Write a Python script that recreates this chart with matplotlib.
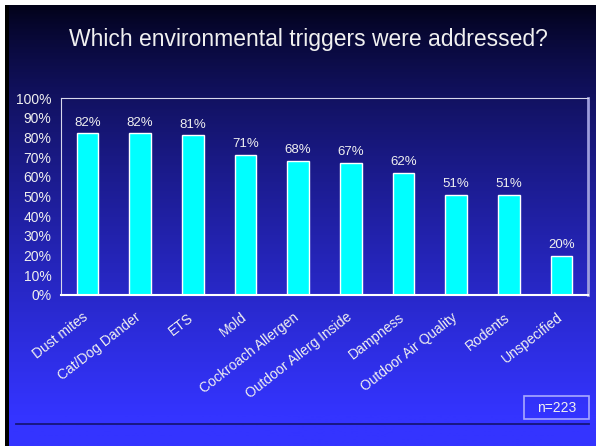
import numpy as np
import matplotlib
matplotlib.use('Agg')
import matplotlib.pyplot as plt
import matplotlib.transforms as mtransforms
from matplotlib.patches import Rectangle
from matplotlib.lines import Line2D

plt.rcParams['font.family'] = ['Liberation Sans', 'DejaVu Sans']

# Share of cases where each trigger was addressed (%)
triggers = ['Dust mites', 'Cat/Dog Dander', 'ETS', 'Mold', 'Cockroach Allergen',
            'Outdoor Allerg Inside', 'Dampness', 'Outdoor Air Quality', 'Rodents',
            'Unspecified']
percent = [82, 82, 81, 71, 68, 67, 62, 51, 51, 20]
yticks = [0, 10, 20, 30, 40, 50, 60, 70, 80, 90, 100]
sample_note = 'n=223'

text_col = '#f0f0f0'

fig = plt.figure(figsize=(5.96, 4.46), dpi=100)

# slide background: dark navy at the top fading into bright blue
bg = fig.add_axes([0, 0, 1, 1], zorder=-10)
t = np.linspace(0, 1, 400)
t = np.clip(t / 0.93, 0, 1) ** 0.75
top = np.array([0x00, 0x00, 0x10]) / 255
bottom = np.array([0x34, 0x34, 0xff]) / 255
grad = top[None, :] + (bottom - top)[None, :] * t[:, None]
bg.imshow(grad[:, None, :], aspect='auto', extent=[0, 1, 0, 1], origin='upper')
bg.set_xlim(0, 1)
bg.set_ylim(0, 1)
bg.axis('off')

# white margin at top/left plus a thin black edge
fig.patches.append(Rectangle((0, 1 - 5 / 446), 1, 5 / 446, transform=fig.transFigure,
                             facecolor='white', edgecolor='none', zorder=5))
fig.patches.append(Rectangle((0, 0), 5 / 596, 1, transform=fig.transFigure,
                             facecolor='white', edgecolor='none', zorder=5))
fig.patches.append(Rectangle((5 / 596, 0), 4 / 596, 1 - 5 / 446, transform=fig.transFigure,
                             facecolor='black', edgecolor='none', zorder=5))

fig.text(0.517, 1 - 46 / 446, 'Which environmental triggers were addressed?',
         ha='center', va='baseline', fontsize=16.5, color=text_col)

ax = fig.add_axes([61 / 596, 1 - 295 / 446, 527 / 596, 197 / 446])
ax.patch.set_alpha(0)
x = np.arange(len(triggers))
bars = ax.bar(x, percent, width=0.41, color='#00ffff', edgecolor='white', linewidth=1)
for xi, v in zip(x, percent):
    ax.text(xi, v + 2.5, f'{v}%', ha='center', va='bottom', fontsize=9.5, color=text_col)

ax.set_xlim(-0.5, len(triggers) - 0.5)
ax.set_ylim(0, 100)
ax.set_yticks(yticks)
ax.set_yticklabels([f'{v}%' for v in yticks], fontsize=10, color=text_col)
ax.set_xticks(x)
ax.set_xticklabels(triggers, rotation=38, ha='right', va='top', rotation_mode='anchor',
                   fontsize=10, color=text_col)
ax.tick_params(axis='y', length=0, pad=7)
ax.tick_params(axis='x', length=0, pad=11)
# nudge rotated labels so their ends sit just left of the bar centres
shift = mtransforms.ScaledTranslation(-5 / 100, 0, fig.dpi_scale_trans)
for lbl in ax.get_xticklabels():
    lbl.set_transform(lbl.get_transform() + shift)

ax.spines['top'].set_color('#d8d8ec')
ax.spines['left'].set_color('#d8d8ec')
ax.spines['bottom'].set_color('white')
ax.spines['bottom'].set_linewidth(1.5)
ax.spines['right'].set_color('#9c9cdc')
ax.spines['right'].set_linewidth(2)

# sample size box and footer rule
fig.patches.append(Rectangle((524 / 596, 1 - 419 / 446), 65 / 596, 23 / 446,
                             transform=fig.transFigure, facecolor='none',
                             edgecolor='#a8a8ff', linewidth=1.2))
fig.text(556.5 / 596, 1 - 407.5 / 446, sample_note, ha='center', va='center',
         fontsize=10, color=text_col)
fig.lines.append(Line2D([16 / 596, 589 / 596], [1 - 424 / 446, 1 - 424 / 446],
                        transform=fig.transFigure, color='#16167a', linewidth=1.3))

fig.savefig('out.png', dpi=100)
